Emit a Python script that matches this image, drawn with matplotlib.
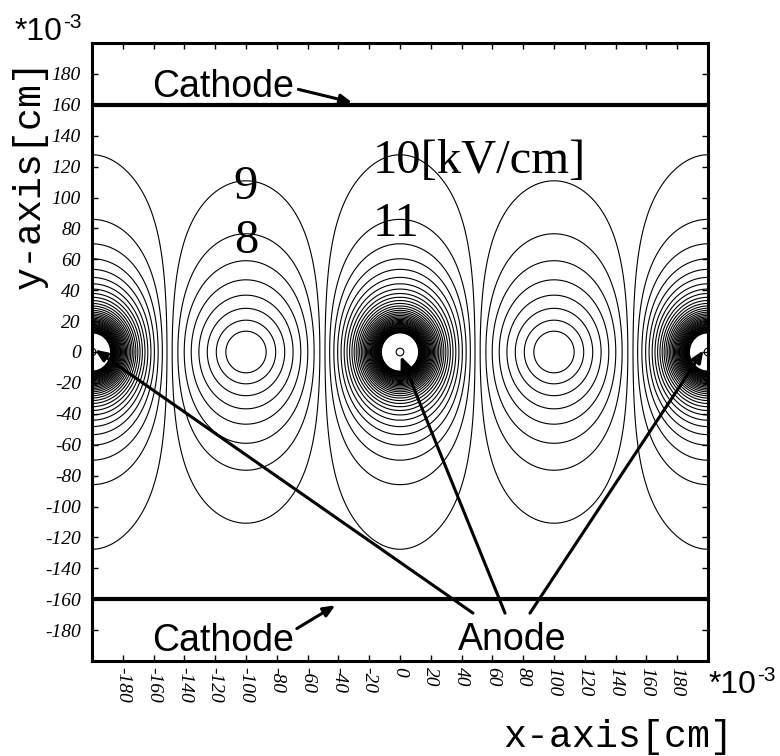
import numpy as np
import matplotlib
matplotlib.use("Agg")
import matplotlib.pyplot as plt
from matplotlib.patches import Circle

# ---- data (units of 1e-3 cm) ----
wire_x = [-200, 0, 200]          # anode wire positions
cathode_y = [-160, 160]          # cathode planes
pitch = 200.0
gap = 160.0
E0 = 9.6                         # far field [kV/cm]
wire_r = 2.5
levels = list(range(2, 51))      # contour levels [kV/cm]
xticks = list(range(-180, 181, 20))
yticks = list(range(-180, 181, 20))

# ---- field computation ----
x = np.linspace(-200, 200, 1201)
y = np.linspace(-160, 160, 961)
X, Y = np.meshgrid(x, y)
Z = X + 1j * Y
S = np.zeros_like(Z)
with np.errstate(all="ignore"):
    for n in range(-4, 5):
        S = S + (-1) ** n / np.tan(np.pi * (Z - 2j * n * gap) / pitch)
E = E0 * np.abs(S)
E = np.nan_to_num(E, nan=1e4, posinf=1e4)
E = np.clip(E, 0, 1e4)

fig = plt.figure(figsize=(7.8, 7.56), dpi=100)
ax = fig.add_axes([92 / 780, 1 - 661 / 756, 616 / 780, 618 / 756])
ax.contour(X, Y, E, levels=levels, colors="k", linewidths=0.8)

for wx in wire_x:
    ax.add_patch(Circle((wx, 0), wire_r, fill=False, ec="k", lw=0.8))
for cy in cathode_y:
    ax.axhline(cy, color="k", lw=3.0)

ax.set_xlim(-200, 200)
ax.set_ylim(-200, 200)
ax.set_xticks(xticks)
ax.set_yticks(yticks)
ax.set_xticklabels([str(v) for v in xticks], rotation=-90, fontfamily="Liberation Serif",
                   fontstyle="italic", fontsize=14)
ax.set_yticklabels([str(v) for v in yticks], fontfamily="Liberation Serif",
                   fontstyle="italic", fontsize=14)
ax.tick_params(direction="in", length=4, width=1, top=True, right=True)
ax.tick_params(axis="y", pad=8)
ax.tick_params(axis="x", pad=4)
for sp in ax.spines.values():
    sp.set_linewidth(2.2)

sans = "Liberation Sans"
serif = "Liberation Serif"
ax.text(-161, 165, "Cathode", fontfamily=sans, fontsize=27, ha="left", va="baseline")
ax.text(-161, -193.5, "Cathode", fontfamily=sans, fontsize=27, ha="left", va="baseline")
ax.text(37.7, -193, "Anode", fontfamily=sans, fontsize=27, ha="left", va="baseline")
ax.text(-18, 116, "10[kV/cm]", fontfamily=serif, fontsize=35, ha="left", va="baseline")
ax.text(-17.5, 75, "11", fontfamily=serif, fontsize=35, ha="left", va="baseline")
ax.text(-108, 99, "9", fontfamily=serif, fontsize=35, ha="left", va="baseline")
ax.text(-108, 64, "8", fontfamily=serif, fontsize=35, ha="left", va="baseline")

ap = dict(arrowstyle="-|>,head_length=0.7,head_width=0.3", color="k", lw=2.2,
          shrinkA=0, shrinkB=0)
ax.annotate("", xy=(-31, 161.5), xytext=(-66, 170), arrowprops=ap)
ax.annotate("", xy=(-42, -164), xytext=(-67, -179), arrowprops=ap)
ax.annotate("", xy=(-198, 1.5), xytext=(47.4, -169), arrowprops=ap)
ax.annotate("", xy=(0.5, -2.6), xytext=(68.2, -169), arrowprops=ap)
ax.annotate("", xy=(197, 1), xytext=(84.4, -169), arrowprops=ap)

# axis titles and scale factors
fig.text(30 / 780, 1 - 174 / 756, "y-axis[cm]", fontfamily="Liberation Mono", fontsize=27.5,
         rotation=90, ha="center", va="center")
fig.text(618 / 780, 1 - 737 / 756, "x-axis[cm]", fontfamily="Liberation Mono", fontsize=27.5,
         ha="center", va="center")
fig.text(15 / 780, 1 - 40 / 756, "*10", fontfamily=sans, fontsize=23, ha="left", va="baseline")
fig.text(63 / 780, 1 - 28 / 756, "-3", fontfamily=sans, fontsize=15, ha="left", va="baseline")
fig.text(709 / 780, 1 - 693 / 756, "*10", fontfamily=sans, fontsize=23, ha="left", va="baseline")
fig.text(757 / 780, 1 - 681 / 756, "-3", fontfamily=sans, fontsize=15, ha="left", va="baseline")

fig.savefig("out.png", dpi=100)
